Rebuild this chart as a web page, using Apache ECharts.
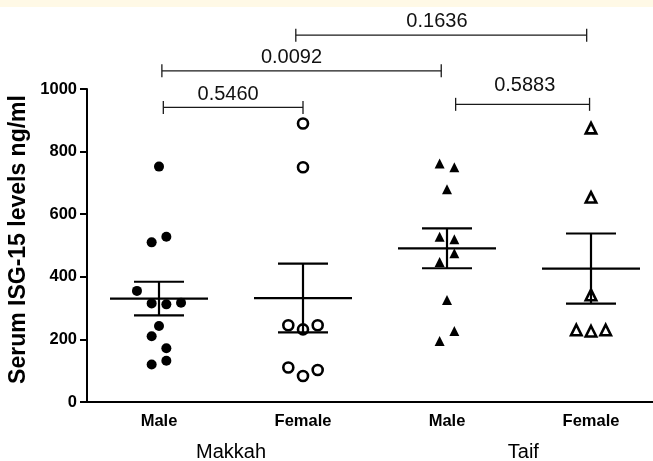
<!DOCTYPE html>
<html><head><meta charset="utf-8">
<script src="https://cdn.jsdelivr.net/npm/echarts@6/dist/echarts.min.js"></script>
<style>html,body{margin:0;padding:0;background:#fff}#c{width:653px;height:461px}</style>
</head><body><div id="c"></div>
<script>
// ---- data ----
const categories = ['Male', 'Female', 'Male', 'Female'];
const makkahMale = [752, 528, 510, 355, 315, 312, 317, 243, 210, 172, 132, 120];
const makkahMaleJitter = [0, 1, -1, -3, -1, 1, 3, 0, -1, 1, 1, -1];
const makkahFemale = [890, 750, 245, 232, 245, 110, 83, 102];
const makkahFemaleJitter = [0, 0, -2, 0, 2, -2, 0, 2];
const taifMale = [762, 750, 680, 528, 520, 475, 447, 326, 227, 195];
const taifMaleJitter = [-1, 1, 0, -1, 1, 1, -1, 0, 1, -1];
const taifFemale = [875, 654, 342, 230, 226, 230];
const taifFemaleJitter = [0, 0, 0, -2, 0, 2];
const yTicks = [0, 200, 400, 600, 800, 1000];
const groupNames = ['Makkah', 'Taif'];
const groupNamePos = [0.5, 2.53];
const bracketFrom = [0.03, 0.02, 0.95, 2.06];
const bracketTo = [1.0, 1.96, 2.97, 2.99];
const bracketY = [941, 1058, 1172, 951];
const bracketLabels = ['0.5460', '0.0092', '0.1636', '0.5883'];
const bracketLabelX = [0.48, 0.92, 1.93, 2.54];
const bracketLabelY = [981, 1101, 1215, 1010];

// ---- helpers ----
const JITTER_STEP = 0.051; // category units per jitter column
const FONT = '"Liberation Sans", Arial, sans-serif';
function pts(idx, vals, jit) { return vals.map((v, i) => [idx + jit[i] * JITTER_STEP, v]); }
function meanSem(vals) {
  const n = vals.length, m = vals.reduce((a, b) => a + b, 0) / n;
  const sd = Math.sqrt(vals.reduce((a, b) => a + (b - m) * (b - m), 0) / (n - 1));
  return [m, sd / Math.sqrt(n)];
}
const groups = [makkahMale, makkahFemale, taifMale, taifFemale];
const statsData = groups.map((g, i) => { const s = meanSem(g); return [i, s[0], s[1]]; });
const bracketData = bracketLabels.map((_, i) => [bracketFrom[i], bracketTo[i], bracketY[i], bracketLabelX[i], bracketLabelY[i]]);
const groupNameData = groupNames.map((_, i) => [groupNamePos[i], 0]);

const chart = echarts.init(document.getElementById('c'), null, { renderer: 'canvas' });
const scatterBase = { type: 'scatter', xAxisIndex: 1, yAxisIndex: 0, silent: true, z: 3 };
chart.setOption({
  animation: false,
  backgroundColor: '#ffffff',
  graphic: [{ type: 'rect', shape: { x: 0, y: 0, width: 653, height: 7 }, style: { fill: '#FFF9E6' }, silent: true }],
  grid: { left: 87, top: 89, width: 576, height: 313, outerBoundsMode: 'none', containLabel: false },
  xAxis: [
    {
      type: 'category', data: categories, boundaryGap: true,
      axisLine: { onZero: false, lineStyle: { color: '#000', width: 2 } },
      axisTick: { alignWithLabel: true, length: 7, lineStyle: { color: '#000', width: 2 } },
      axisLabel: { color: '#000', fontWeight: 'bold', fontSize: 16.5, fontFamily: FONT, margin: 11 },
      splitLine: { show: false }
    },
    { type: 'value', min: -0.5, max: 3.5, show: false, splitLine: { show: false } }
  ],
  yAxis: {
    type: 'value', min: yTicks[0], max: yTicks[yTicks.length - 1], interval: yTicks[1] - yTicks[0],
    name: 'Serum ISG-15 levels ng/ml', nameLocation: 'middle', nameGap: 57, nameRotate: 90, nameMoveOverlap: false,
    nameTextStyle: { color: '#000', fontWeight: 'bold', fontSize: 23, fontFamily: FONT, padding: [0, 0, 0, 12] },
    axisLine: { show: true, onZero: false, lineStyle: { color: '#000', width: 2 } },
    axisTick: { show: true, inside: false, length: 7, lineStyle: { color: '#000', width: 2 } },
    axisLabel: { color: '#000', fontWeight: 'bold', fontSize: 16.5, fontFamily: FONT, margin: 10, formatter: v => String(v) },
    splitLine: { show: false }
  },
  series: [
    Object.assign({}, scatterBase, { data: pts(0, makkahMale, makkahMaleJitter), symbol: 'circle', symbolSize: 10, itemStyle: { color: '#000', opacity: 1 } }),
    Object.assign({}, scatterBase, { data: pts(1, makkahFemale, makkahFemaleJitter), symbol: 'circle', symbolSize: 10, itemStyle: { color: '#fff', borderColor: '#000', borderWidth: 2.6, opacity: 1 } }),
    Object.assign({}, scatterBase, { data: pts(2, taifMale, taifMaleJitter), symbol: 'triangle', symbolSize: 10, itemStyle: { color: '#000', opacity: 1 } }),
    Object.assign({}, scatterBase, { data: pts(3, taifFemale, taifFemaleJitter), symbol: 'triangle', symbolSize: 10.5, itemStyle: { color: '#fff', borderColor: '#000', borderWidth: 2.6, opacity: 1 } }),
    {
      type: 'custom', xAxisIndex: 1, yAxisIndex: 0, clip: false, silent: true, z: 4,
      encode: { x: 0, y: 1 },
      data: statsData,
      renderItem: function (params, api) {
        const i = api.value(0), m = api.value(1), s = api.value(2);
        const c = api.coord([i, m]), t = api.coord([i, m + s]), b = api.coord([i, m - s]);
        const st = { stroke: '#000', lineWidth: 2.2 };
        return { type: 'group', children: [
          { type: 'line', shape: { x1: c[0] - 49, y1: c[1], x2: c[0] + 49, y2: c[1] }, style: st },
          { type: 'line', shape: { x1: t[0] - 25, y1: t[1], x2: t[0] + 25, y2: t[1] }, style: st },
          { type: 'line', shape: { x1: b[0] - 25, y1: b[1], x2: b[0] + 25, y2: b[1] }, style: st },
          { type: 'line', shape: { x1: t[0], y1: t[1], x2: b[0], y2: b[1] }, style: st }
        ] };
      }
    },
    {
      type: 'custom', xAxisIndex: 1, yAxisIndex: 0, clip: false, silent: true, z: 5,
      encode: { x: [0, 1, 3], y: [2, 4] },
      data: bracketData,
      renderItem: function (params, api) {
        const p1 = api.coord([api.value(0), api.value(2)]);
        const p2 = api.coord([api.value(1), api.value(2)]);
        const pl = api.coord([api.value(3), api.value(4)]);
        const st = { stroke: '#1a1a1a', lineWidth: 1.3 };
        const h = 6.5;
        return { type: 'group', children: [
          { type: 'line', shape: { x1: p1[0], y1: p1[1], x2: p2[0], y2: p2[1] }, style: st },
          { type: 'line', shape: { x1: p1[0], y1: p1[1] - h, x2: p1[0], y2: p1[1] + h }, style: st },
          { type: 'line', shape: { x1: p2[0], y1: p2[1] - h, x2: p2[0], y2: p2[1] + h }, style: st },
          { type: 'text', x: pl[0], y: pl[1], style: { text: bracketLabels[params.dataIndex], fill: '#111', fontSize: 20, fontFamily: FONT, align: 'center', verticalAlign: 'middle' } }
        ] };
      }
    },
    {
      type: 'custom', xAxisIndex: 1, yAxisIndex: 0, clip: false, silent: true, z: 5,
      encode: { x: 0, y: 1 },
      data: groupNameData,
      renderItem: function (params, api) {
        const p = api.coord([api.value(0), api.value(1)]);
        return { type: 'text', x: p[0], y: p[1] + 50, style: { text: groupNames[params.dataIndex], fill: '#000', fontSize: 20, fontFamily: FONT, align: 'center', verticalAlign: 'middle' } };
      }
    }
  ]
});
</script>
</body></html>
